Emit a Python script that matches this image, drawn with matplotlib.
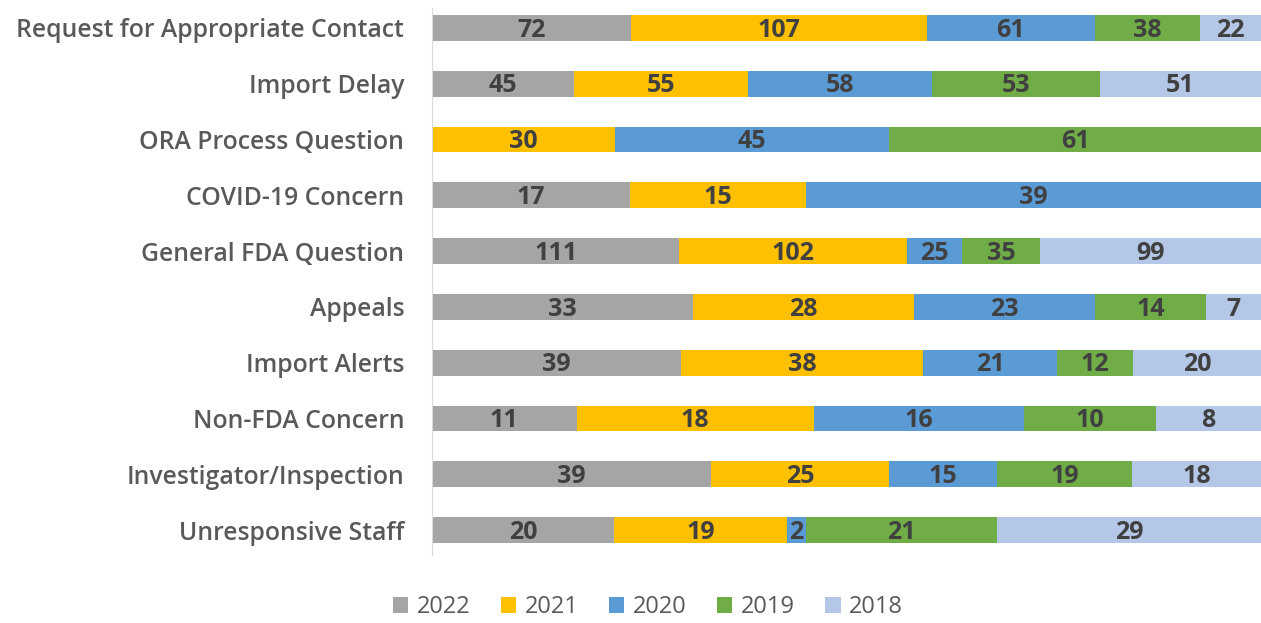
import matplotlib.pyplot as plt
import numpy as np

categories = ['Request for Appropriate Contact', 'Import Delay', 'ORA Process Question',
              'COVID-19 Concern', 'General FDA Question', 'Appeals', 'Import Alerts',
              'Non-FDA Concern', 'Investigator/Inspection', 'Unresponsive Staff']
years = ['2022', '2021', '2020', '2019', '2018']
v2022 = [72, 45, 0, 17, 111, 33, 39, 11, 39, 20]
v2021 = [107, 55, 30, 15, 102, 28, 38, 18, 25, 19]
v2020 = [61, 58, 45, 39, 25, 23, 21, 16, 15, 2]
v2019 = [38, 53, 61, 0, 35, 14, 12, 10, 19, 21]
v2018 = [22, 51, 0, 0, 99, 7, 20, 8, 18, 29]
colors = ['#A5A5A5', '#FFC000', '#5B9BD5', '#70AD47', '#B4C7E7']

plt.rcParams['font.family'] = ['Open Sans', 'DejaVu Sans']

series = np.array([v2022, v2021, v2020, v2019, v2018], dtype=float)
totals = series.sum(axis=0)
pct = series / totals

fig = plt.figure(figsize=(12.61, 6.23), dpi=100)
ax = fig.add_axes([432 / 1261, 1 - 558 / 623, 1 - 432 / 1261, 558 / 623])

y = np.arange(len(categories))
left = np.zeros(len(categories))
for i, yr in enumerate(years):
    ax.barh(y, pct[i], left=left, height=0.46, color=colors[i], label=yr)
    for j in range(len(categories)):
        if series[i, j] > 0:
            ax.text(left[j] + pct[i, j] / 2, y[j] + 0.04, str(int(series[i, j])),
                    ha='center', va='center', fontsize=18, fontweight='bold',
                    color='#404040')
    left += pct[i]

ax.set_xlim(0, 1)
ax.set_ylim(len(categories) - 0.5, -0.5)
ax.set_yticks(y)
ax.set_yticklabels(categories, fontsize=17.8, fontweight='semibold', color='#595959')
ax.tick_params(axis='y', length=0, pad=20)
ax.set_xticks([])
for s in ['top', 'right', 'bottom']:
    ax.spines[s].set_visible(False)
ax.spines['left'].set_color('#D9D9D9')
ax.spines['left'].set_bounds(-0.35, 9.45)

leg = fig.legend(loc='center', bbox_to_anchor=(648 / 1261, 1 - 607 / 623), ncol=5,
                 frameon=False, fontsize=17, handlelength=0.65, handleheight=0.65,
                 handletextpad=0.35, columnspacing=1.3)
for t in leg.get_texts():
    t.set_color('#595959')

fig.savefig('out.png', dpi=100)
